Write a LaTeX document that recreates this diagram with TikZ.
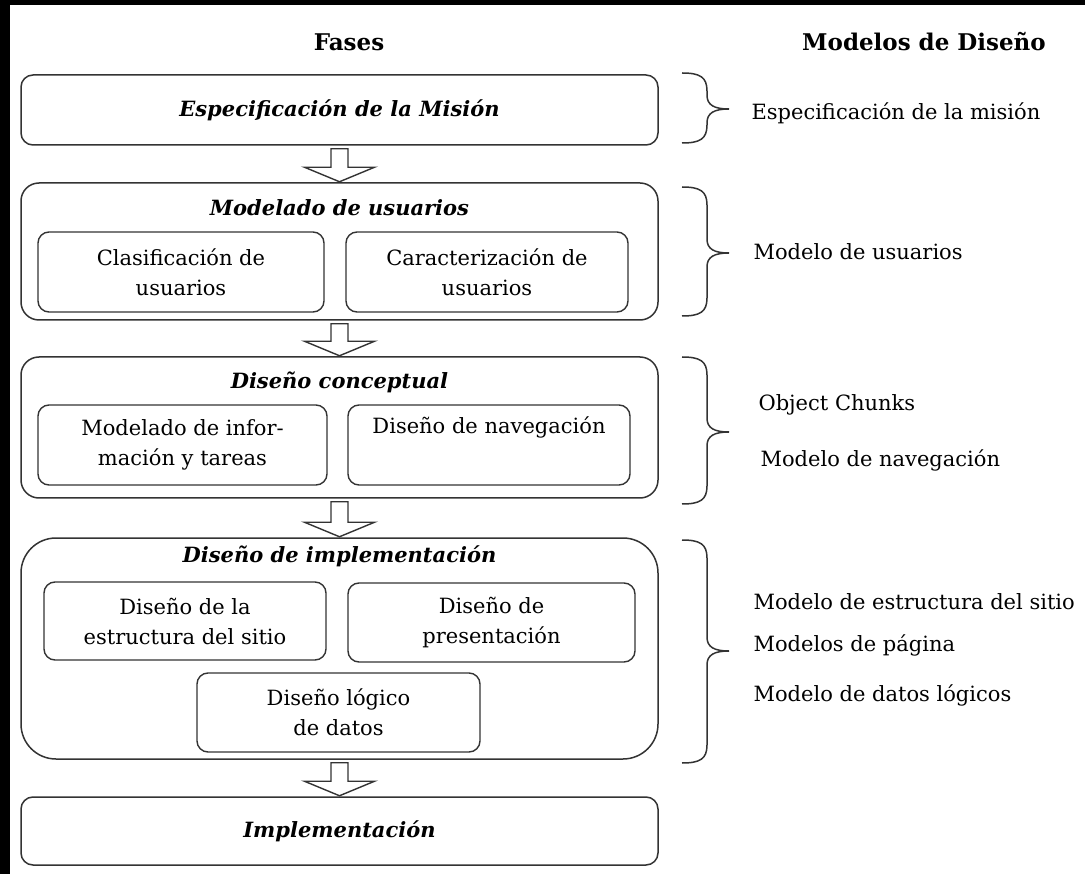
\documentclass[tikz,border=0pt]{standalone}
\usepackage{fontspec}
\setmainfont{DejaVu Serif}
\usetikzlibrary{calc}
\newcommand\mybrace[3]{%
  \draw[bracestyle] (682,#1) .. controls (700,#1) and (707,#1+4) .. (707,#1+18)
    -- (707,#2-14) .. controls (707,#2-4) and (714,#2) .. (729,#2)
    .. controls (714,#2) and (707,#2+4) .. (707,#2+14)
    -- (707,#3-18) .. controls (707,#3-4) and (700,#3) .. (682,#3);}
\begin{document}
\begin{tikzpicture}[x=1pt,y=-1pt,
  every node/.style={font=\fontsize{21}{30}\selectfont, text=black},
  outerbox/.style={draw=black!80, line width=1.5pt, rounded corners=#1, inner sep=0pt, minimum width=637pt},
  outerbox/.default=12pt,
  innerbox/.style={draw=black!80, line width=1.4pt, rounded corners=11pt, inner sep=0pt, align=center},
  ttl/.style={font=\fontsize{21}{30}\selectfont\bfseries\itshape},
  hdr/.style={font=\fontsize{23}{30}\selectfont\bfseries},
  model/.style={anchor=west},
  blockarrow/.style={draw=black!80, line width=1.4pt, fill=white, line join=miter},
  bracestyle/.style={draw=black!80, line width=1.5pt}]
\useasboundingbox (0,0) rectangle (1085,874);
\fill[white] (0,0) rectangle (1085,874);
\fill[black] (0,0) rectangle (10,874);
\fill[black] (0,0) rectangle (1085,5);

% headers
\node[hdr] (hf) at (349,42) {Fases};
\node[hdr] (hm) at (924,42) {Modelos de Diseño};

% phase boxes
\node[outerbox=12pt, minimum height=70pt, ttl] (b1) at (339.5,110) {Especificación de la Misión};
\node[outerbox=18pt, minimum height=137pt] (b2) at (339.5,251.5) {};
\node[outerbox=18pt, minimum height=141pt] (b3) at (339.5,427.5) {};
\node[outerbox=35pt, minimum height=221pt] (b4) at (339.5,648.5) {};
\node[outerbox=12pt, minimum height=68pt, ttl] (b5) at (339.5,831) {Implementación};

% titles
\node[ttl] (t2) at ($(b2.north)+(0,25)$) {Modelado de usuarios};
\node[ttl] (t3) at ($(b3.north)+(0,26)$) {Diseño conceptual};
\node[ttl] (t4) at ($(b4.north)+(0,19)$) {Diseño de implementación};

% inner boxes
\node[innerbox, minimum width=286pt, minimum height=80pt] (u1) at (181,272) {Clasificación de\\usuarios};
\node[innerbox, minimum width=282pt, minimum height=80pt] (u2) at (487,272) {Caracterización de\\usuarios};
\node[innerbox, minimum width=289pt, minimum height=80pt] (c1) at (182.5,445) {Modelado de infor-\\mación y tareas};
\node[innerbox, minimum width=282pt, minimum height=80pt] (c2) at (489,445) {};
\node (c2t) at ($(c2.north)+(0,23)$) {Diseño de navegación};
\node[innerbox, minimum width=282pt, minimum height=78pt] (i1) at (185,621) {Diseño de la\\estructura del sitio};
\node[innerbox, minimum width=287pt, minimum height=79pt] (i2) at (491.5,622.5) {Diseño de\\presentación};
\node[innerbox, minimum width=283pt, minimum height=79pt] (i3) at (338.5,712.5) {Diseño lógico\\de datos};

% block arrows
\foreach \a/\b in {b1/b2, b2/b3, b3/b4, b4/b5}{
  \path let \p1=(\a.south), \p2=(\b.north) in
    [blockarrow] (\x1-8.5pt,\y1-3pt) -- (\x1-8.5pt,\y2+15pt) -- (\x1-35pt,\y2+15pt)
    -- (\x1,\y2+0.5pt) -- (\x1+35pt,\y2+15pt) -- (\x1+8.5pt,\y2+15pt)
    -- (\x1+8.5pt,\y1-3pt) -- cycle;
}

% braces
\mybrace{73}{109}{143}
\mybrace{187}{253}{316}
\mybrace{357}{432}{504}
\mybrace{540}{651}{763}

% design models
\node[model] (m1) at (748,113) {Especificación de la misión};
\node[model] (m2) at (750,252) {Modelo de usuarios};
\node[model] (m3) at (755,405) {Object Chunks};
\node[model] (m4) at (757,460) {Modelo de navegación};
\node[model] (m5) at (750,602) {Modelo de estructura del sitio};
\node[model] (m6) at (750,645) {Modelos de página};
\node[model] (m7) at (750,695) {Modelo de datos lógicos};
\end{tikzpicture}
\end{document}
